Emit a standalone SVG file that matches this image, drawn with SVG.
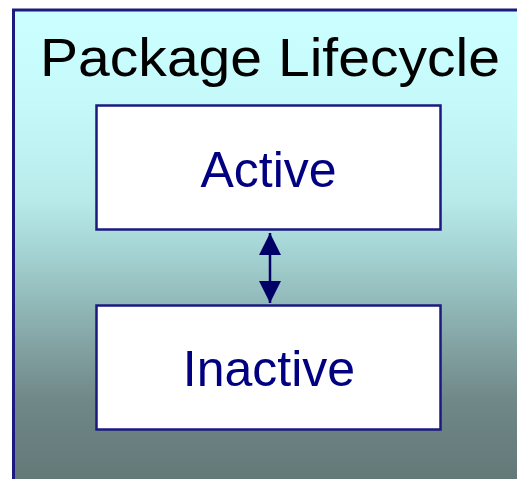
<svg xmlns="http://www.w3.org/2000/svg" width="517" height="479" viewBox="0 0 517 479">
<defs>
<linearGradient id="bg" x1="0" y1="10" x2="0" y2="479" gradientUnits="userSpaceOnUse">
<stop offset="0" stop-color="#ccffff"/>
<stop offset="0.19" stop-color="#c6fafa"/>
<stop offset="0.405" stop-color="#b8eaea"/>
<stop offset="0.53" stop-color="#a2d0d0"/>
<stop offset="0.66" stop-color="#8cb0b0"/>
<stop offset="0.83" stop-color="#708888"/>
<stop offset="1" stop-color="#647878"/>
</linearGradient>
<marker id="ah" viewBox="0 0 22 22" refX="22" refY="11" markerWidth="22" markerHeight="22" markerUnits="userSpaceOnUse" orient="auto-start-reverse">
<path d="M0,0 L22,11 L0,22 Z" fill="#000066"/>
</marker>
</defs>
<style>
.node rect{fill:#ffffff;stroke:#1a1a80;stroke-width:2.5}
.lbl{font-family:"Liberation Sans",Arial,sans-serif;font-size:50px;fill:#000080;text-anchor:middle}
.title{font-family:"Liberation Sans",Arial,sans-serif;font-size:54px;fill:#000000}
</style>
<rect width="517" height="479" fill="#ffffff"/>
<g id="frame">
<rect x="13.5" y="10" width="520" height="490" fill="url(#bg)" stroke="#1a1a80" stroke-width="3"/>
<text class="title" x="40" y="76" textLength="460" lengthAdjust="spacingAndGlyphs">Package Lifecycle</text>
</g>
<g id="active" class="node">
<rect x="96.5" y="105.5" width="344" height="124"/>
<text class="lbl" x="268.5" y="187">Active</text>
</g>
<g id="inactive" class="node">
<rect x="96.5" y="305.5" width="344" height="124"/>
<text class="lbl" x="269" y="386">Inactive</text>
</g>
<g id="connectors">
<line x1="270" y1="233" x2="270" y2="303" stroke="#000066" stroke-width="2.5" marker-start="url(#ah)" marker-end="url(#ah)"/>
</g>
</svg>
